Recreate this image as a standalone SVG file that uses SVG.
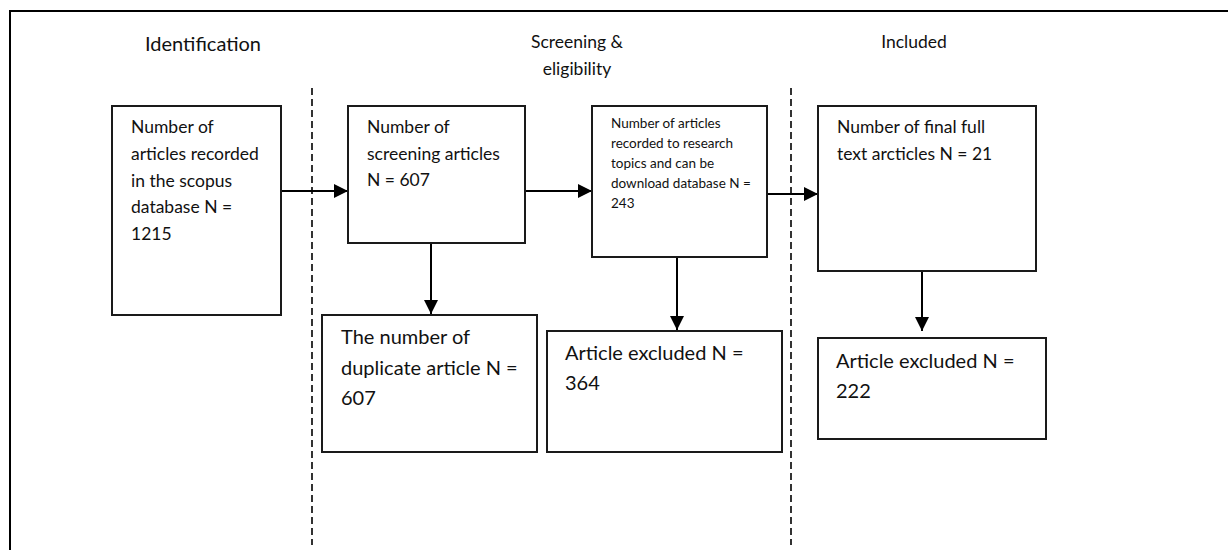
<svg xmlns="http://www.w3.org/2000/svg" width="1228" height="550" viewBox="0 0 1228 550">
<style>
  text { font-family: Lato, "Liberation Sans", sans-serif; fill: #111; }
  .box { fill: #fff; stroke: #1a1a1a; stroke-width: 2; }
  .hdr { font-size: 17.5px; text-anchor: middle; }
  .t18 { font-size: 17.5px; }
  .t20 { font-size: 20px; }
  .t14 { font-size: 13.5px; }
  .conn { stroke: #000; stroke-width: 2; fill: none; marker-end: url(#ah); }
  .dash { stroke: #000; stroke-width: 1.6; stroke-dasharray: 7 4; fill: none; }
</style>
<defs>
  <marker id="ah" markerUnits="userSpaceOnUse" markerWidth="14" markerHeight="14" refX="14" refY="7" orient="auto">
    <path d="M0,0 L14,7 L0,14 Z" fill="#000"/>
  </marker>
</defs>
<rect width="1228" height="550" fill="#fff"/>
<g id="frame">
  <line x1="10" y1="11" x2="1228" y2="11" stroke="#000" stroke-width="2"/>
  <line x1="10" y1="10" x2="10" y2="550" stroke="#000" stroke-width="2"/>
</g>
<g id="headers">
  <text class="hdr" x="203" y="51" style="font-size:20px">Identification</text>
  <text class="hdr" x="577" y="48">Screening &amp;</text>
  <text class="hdr" x="577" y="75">eligibility</text>
  <text class="hdr" x="914" y="48">Included</text>
</g>
<g id="dividers">
  <line class="dash" x1="312" y1="88" x2="312" y2="545"/>
  <line class="dash" x1="791" y1="88" x2="791" y2="545"/>
</g>
<g id="connectors">
  <line class="conn" x1="281" y1="191" x2="348" y2="191"/>
  <line class="conn" x1="525" y1="191" x2="592" y2="191"/>
  <line class="conn" x1="767" y1="194" x2="818" y2="194"/>
  <line class="conn" x1="431" y1="243" x2="431" y2="314"/>
  <line class="conn" x1="677" y1="257" x2="677" y2="330"/>
  <line class="conn" x1="922" y1="271" x2="922" y2="331"/>
</g>
<g id="n1">
  <rect class="box" x="112" y="106" width="169" height="209"/>
  <text class="t18" x="131" y="133">Number of</text>
  <text class="t18" x="131" y="160">articles recorded</text>
  <text class="t18" x="131" y="187">in the scopus</text>
  <text class="t18" x="131" y="213">database N =</text>
  <text class="t18" x="131" y="240">1215</text>
</g>
<g id="n2">
  <rect class="box" x="348" y="106" width="177" height="137"/>
  <text class="t18" x="367" y="133">Number of</text>
  <text class="t18" x="367" y="160">screening articles</text>
  <text class="t18" x="367" y="186">N = 607</text>
</g>
<g id="n3">
  <rect class="box" x="592" y="106" width="175" height="151"/>
  <text class="t14" x="611" y="128">Number of articles</text>
  <text class="t14" x="611" y="148">recorded to research</text>
  <text class="t14" x="611" y="168">topics and can be</text>
  <text class="t14" x="611" y="188">download database N =</text>
  <text class="t14" x="611" y="208">243</text>
</g>
<g id="n4">
  <rect class="box" x="818" y="106" width="218" height="165"/>
  <text class="t18" x="837" y="133">Number of final full</text>
  <text class="t18" x="837" y="160">text arcticles N = 21</text>
</g>
<g id="n5">
  <rect class="box" x="322" y="315" width="215" height="137"/>
  <text class="t20" x="341" y="344">The number of</text>
  <text class="t20" x="341" y="375">duplicate article N =</text>
  <text class="t20" x="341" y="405">607</text>
</g>
<g id="n6">
  <rect class="box" x="547" y="331" width="235" height="121"/>
  <text class="t20" x="565" y="360">Article excluded N =</text>
  <text class="t20" x="565" y="390">364</text>
</g>
<g id="n7">
  <rect class="box" x="818" y="338" width="228" height="101"/>
  <text class="t20" x="836" y="368">Article excluded N =</text>
  <text class="t20" x="836" y="398">222</text>
</g>
</svg>
